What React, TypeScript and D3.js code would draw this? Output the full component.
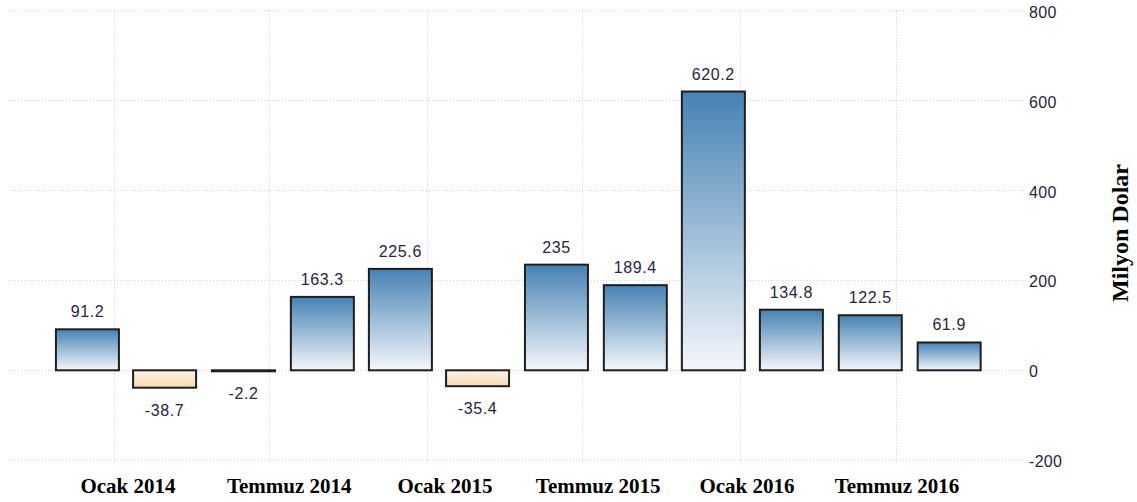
import React from "react";
import * as d3 from "d3";

const dates = ["2013-12-01","2014-03-01","2014-06-01","2014-09-01","2014-12-01","2015-03-01","2015-06-01","2015-09-01","2015-12-01","2016-03-01","2016-06-01","2016-09-01"];
const values = [91.2, -38.7, -2.2, 163.3, 225.6, -35.4, 235, 189.4, 620.2, 134.8, 122.5, 61.9];
const valueLabels = ["91.2","-38.7","-2.2","163.3","225.6","-35.4","235","189.4","620.2","134.8","122.5","61.9"];
const xTickDates = ["2014-01-01","2014-07-01","2015-01-01","2015-07-01","2016-01-01","2016-07-01"];
const xTickLabels = ["Ocak 2014","Temmuz 2014","Ocak 2015","Temmuz 2015","Ocak 2016","Temmuz 2016"];
const yTicks = [-200, 0, 200, 400, 600, 800];
const yTitle = "Milyon Dolar";

// small horizontal nudges of the x tick labels relative to their gridline (style)
const xLabelNudge = [14, 20, 18, 16, 7, 1];

const W = 1137;
const H = 502;

export default function App() {
  const parse = (s: string) => new Date(s + "T00:00:00Z");
  const x = d3.scaleUtc().domain([parse("2014-01-01"), parse("2016-07-01")]).range([114, 896]);
  const y = d3.scaleLinear().domain([-200, 800]).range([460.2, 10.7]);
  const barW = 63;
  const gridLeft = 9;
  const gridRight = 1025;
  const sans = "'Liberation Sans', Arial, sans-serif";
  const serif = "'Liberation Serif', 'Times New Roman', serif";
  const textCol = "#26263e";

  return (
    <svg width={W} height={H} style={{ position: "fixed", left: 0, top: 0, background: "#fff" }}>
      <defs>
        <linearGradient id="gpos" x1="0" y1="0" x2="0" y2="1">
          <stop offset="0" stopColor="#4682b4" />
          <stop offset="1" stopColor="#f4f7fb" />
        </linearGradient>
        <linearGradient id="gneg" x1="0" y1="0" x2="0" y2="1">
          <stop offset="0" stopColor="#fdf3e4" />
          <stop offset="1" stopColor="#f5dab2" />
        </linearGradient>
      </defs>
      {yTicks.map((t) => (
        <line key={"h" + t} x1={gridLeft} x2={gridRight} y1={y(t)} y2={y(t)} stroke="#cfcfcf" strokeWidth={1} strokeDasharray="1,2" />
      ))}
      {xTickDates.map((d) => (
        <line key={"v" + d} x1={Math.round(x(parse(d))) + 0.5} x2={Math.round(x(parse(d))) + 0.5} y1={y(800)} y2={y(-200) + 4} stroke="#cfcfcf" strokeWidth={1} strokeDasharray="1,2" />
      ))}
      {values.map((v, i) => {
        const cx = x(parse(dates[i]));
        const y0 = y(0);
        const y1 = y(v);
        const top = Math.min(y0, y1);
        const h = Math.abs(y1 - y0);
        return (
          <rect key={"b" + i} x={cx - barW / 2} y={top} width={barW} height={h}
            fill={v >= 0 ? "url(#gpos)" : "url(#gneg)"} stroke="#1e1e1e" strokeWidth={2} />
        );
      })}
      {values.map((v, i) => {
        const cx = x(parse(dates[i]));
        const yy = v >= 0 ? y(v) - 12 : y(v) + 28;
        return (
          <text key={"l" + i} x={cx} y={yy} textAnchor="middle" fontFamily={sans} fontSize={16} letterSpacing={0.6} fill={textCol}>
            {valueLabels[i]}
          </text>
        );
      })}
      {yTicks.map((t) => (
        <text key={"yt" + t} x={1029} y={y(t) + 7} fontFamily={sans} fontSize={16} letterSpacing={0.3} fill={textCol}>
          {t}
        </text>
      ))}
      {xTickDates.map((d, i) => (
        <text key={"xt" + d} x={x(parse(d)) + xLabelNudge[i]} y={493} textAnchor="middle" fontFamily={serif} fontWeight="bold" fontSize={21} fill="#000">
          {xTickLabels[i]}
        </text>
      ))}
      <text transform="translate(1128,233) rotate(-90)" textAnchor="middle" fontFamily={serif} fontWeight="bold" fontSize={24} fill="#000">
        {yTitle}
      </text>
    </svg>
  );
}
